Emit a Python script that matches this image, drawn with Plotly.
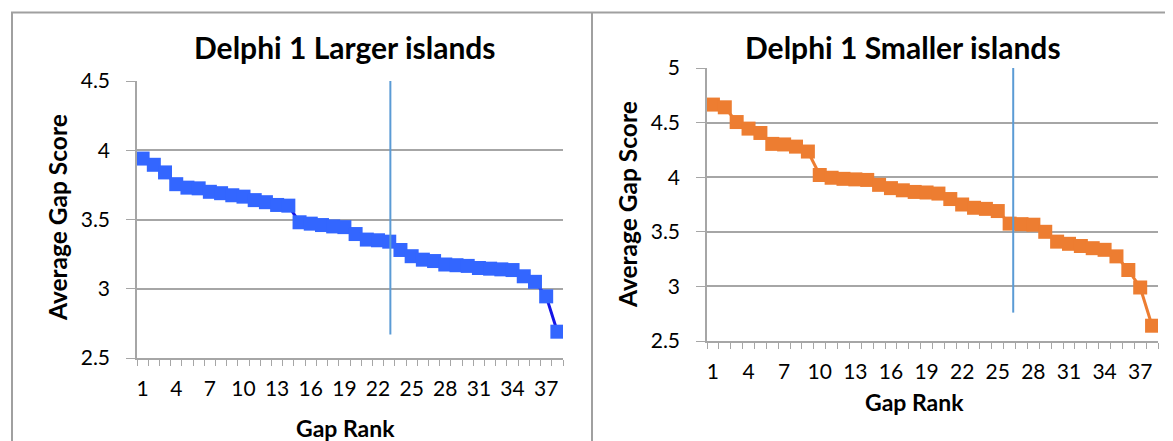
import plotly.graph_objects as go

rank = list(range(1, 39))
larger = [3.94, 3.895, 3.84, 3.755, 3.73, 3.725, 3.70, 3.69, 3.675, 3.665,
          3.64, 3.625, 3.605, 3.60, 3.48, 3.47, 3.46, 3.45, 3.445, 3.395,
          3.355, 3.35, 3.34, 3.28, 3.235, 3.21, 3.20, 3.175, 3.17, 3.165,
          3.15, 3.145, 3.14, 3.135, 3.09, 3.05, 2.945, 2.69]
smaller = [4.665, 4.64, 4.505, 4.445, 4.405, 4.305, 4.30, 4.28, 4.235, 4.02,
           3.995, 3.985, 3.98, 3.975, 3.93, 3.90, 3.88, 3.865, 3.86, 3.85,
           3.80, 3.75, 3.72, 3.71, 3.69, 3.575, 3.57, 3.565, 3.50, 3.41,
           3.39, 3.37, 3.35, 3.335, 3.275, 3.15, 2.99, 2.64]
tick_vals = [1, 4, 7, 10, 13, 16, 19, 22, 25, 28, 31, 34, 37]
tick_text = [str(v) for v in tick_vals]
y_ticks_left = [2.5, 3, 3.5, 4, 4.5]
y_ticks_right = [2.5, 3, 3.5, 4, 4.5, 5]
cut_left = 23.1
cut_right = 26.3

W, H = 1173, 441
OFF = 8  # page body margin offset
FONT = "Lato"
GRID = "#A6A6A6"


def px(x):
    return (x - OFF) / W


def py(y):
    return 1 - (y - OFF) / H


fig = go.Figure()
fig.add_trace(go.Scatter(x=rank, y=larger, mode="lines+markers", xaxis="x", yaxis="y",
                         line=dict(color="#1414E6", width=3),
                         marker=dict(symbol="square", size=14, color="#3366FF"),
                         showlegend=False))
fig.add_trace(go.Scatter(x=rank, y=smaller, mode="lines+markers", xaxis="x2", yaxis="y2",
                         line=dict(color="#ED7D31", width=3),
                         marker=dict(symbol="square", size=14, color="#ED7D31"),
                         showlegend=False))

xcommon = dict(range=[0.5, 38.5], tickvals=tick_vals, ticktext=tick_text, ticks="",
               showgrid=False, showline=True, linecolor=GRID, linewidth=1.5,
               zeroline=False, automargin=False,
               tickfont=dict(family=FONT, size=21, color="#000"),
               ticklabelstandoff=11,
               minor=dict(ticks="outside", tick0=0.5, dtick=1, ticklen=6,
                          tickcolor=GRID, tickwidth=1.2, showgrid=False))
ycommon = dict(showgrid=True, gridcolor=GRID, gridwidth=1.5, ticks="outside",
               ticklen=9, tickcolor=GRID, tickwidth=1.2, showline=True, linecolor=GRID,
               linewidth=1.5, zeroline=False, automargin=False,
               tickfont=dict(family=FONT, size=21, color="#000"), ticklabelstandoff=12)

fig.update_layout(
    width=W, height=H, margin=dict(l=0, r=0, t=0, b=0, autoexpand=False),
    paper_bgcolor="white", plot_bgcolor="white",
    xaxis=dict(domain=[px(137), px(563)], anchor="y", **xcommon),
    yaxis=dict(domain=[py(358), py(81)], anchor="x", range=[2.5, 4.5],
               tickvals=y_ticks_left, **ycommon),
    xaxis2=dict(domain=[px(707), px(1158)], anchor="y2", **xcommon),
    yaxis2=dict(domain=[py(341), py(68)], anchor="x2", range=[2.5, 5],
                tickvals=y_ticks_right, **ycommon),
)

shapes = [
    dict(type="line", xref="x", yref="y", x0=cut_left, x1=cut_left, y0=2.67, y1=4.52,
         line=dict(color="#5B9BD5", width=2)),
    dict(type="line", xref="x2", yref="y2", x0=cut_right, x1=cut_right, y0=2.76, y1=5.045,
         line=dict(color="#5B9BD5", width=2)),
    dict(type="line", xref="paper", yref="paper", x0=px(11), x1=1, y0=py(12.5), y1=py(12.5),
         line=dict(color="#A0A0A0", width=2)),
    dict(type="line", xref="paper", yref="paper", x0=px(12), x1=px(12), y0=0, y1=py(12.5),
         line=dict(color="#A0A0A0", width=2)),
    dict(type="line", xref="paper", yref="paper", x0=px(592), x1=px(592), y0=0, y1=py(12.5),
         line=dict(color="#A0A0A0", width=2)),
]
fig.update_layout(shapes=shapes)


def ann(text, x, y, size, angle=0):
    return dict(text=text, x=px(x), y=py(y), xref="paper", yref="paper", showarrow=False,
                xanchor="center", yanchor="middle", textangle=angle,
                font=dict(family=FONT, size=size, color="#000"))


fig.update_layout(annotations=[
    ann("<b>Delphi 1 Larger islands</b>", 345, 47, 30),
    ann("<b>Delphi 1 Smaller islands</b>", 903, 47, 30),
    ann("<b>Average Gap Score</b>", 57, 218, 24.5, -90),
    ann("<b>Average Gap Score</b>", 627, 205, 24.5, -90),
    ann("<b>Gap Rank</b>", 345, 428, 23),
    ann("<b>Gap Rank</b>", 915, 402, 23),
])

fig.write_html("out.html")
